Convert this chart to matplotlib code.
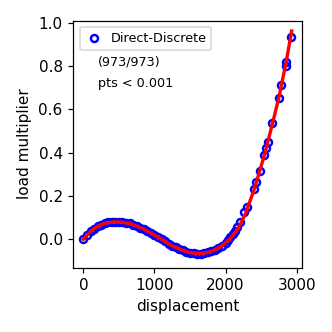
import matplotlib
matplotlib.use("Agg")
import matplotlib.pyplot as plt

# markers: discrete solver steps
step_disp = [0, 50, 100, 150, 200, 250, 300, 350, 400, 450, 500, 550, 600, 650,
             700, 750, 800, 850, 900, 950, 1000, 1050, 1100, 1150, 1200, 1250,
             1300, 1350, 1400, 1450, 1500, 1550, 1600, 1650, 1700, 1750, 1800,
             1850, 1900, 1950, 2000, 2040, 2063, 2100, 2134, 2158, 2200, 2260,
             2298, 2401, 2429, 2481, 2546, 2565, 2602, 2658, 2748, 2781, 2847,
             2851, 2917]
step_load = [0.000, 0.019, 0.036, 0.049, 0.060, 0.068, 0.074, 0.078, 0.080,
             0.080, 0.080, 0.079, 0.076, 0.073, 0.068, 0.062, 0.054, 0.047,
             0.038, 0.029, 0.020, 0.010, 0.000, -0.009, -0.020, -0.030, -0.038,
             -0.046, -0.052, -0.058, -0.062, -0.065, -0.066, -0.066, -0.064,
             -0.061, -0.056, -0.049, -0.040, -0.029, -0.017, -0.005, 0.012,
             0.025, 0.040, 0.058, 0.078, 0.127, 0.150, 0.232, 0.263, 0.317,
             0.389, 0.420, 0.450, 0.535, 0.653, 0.712, 0.800, 0.820, 0.935]

# reference curve
ref_disp = [0, 100, 200, 300, 420, 540, 680, 820, 960, 1100, 1220, 1360, 1500,
            1640, 1780, 1920, 2060, 2180, 2280, 2400, 2480, 2560, 2660, 2750,
            2850, 2930]
ref_load = [0.0, 0.036, 0.060, 0.074, 0.080, 0.079, 0.070, 0.051, 0.027, 0.0,
            -0.026, -0.046, -0.062, -0.066, -0.059, -0.037, 0.0, 0.051, 0.118,
            0.228, 0.315, 0.405, 0.535, 0.655, 0.815, 0.962]

fig = plt.figure(figsize=(332 / 110, 332 / 110), dpi=110)
ax = fig.add_axes([0.221, 0.194, 0.688, 0.744])

ax.plot(step_disp, step_load, 'o', mfc='none', mec='blue', ms=4.6, mew=1.6,
        label='Direct-Discrete')
ax.plot(ref_disp, ref_load, '-', color='red', lw=2.2)

ax.set_xlabel('displacement')
ax.set_ylabel('load multiplier')
ax.set_xticks([0, 1000, 2000, 3000])
ax.set_yticks([0.0, 0.2, 0.4, 0.6, 0.8, 1.0])
ax.set_xlim(-141, 3072)
ax.set_ylim(-0.131, 1.01)

ax.legend(loc='upper left', fontsize='small', handlelength=1.5,
          handletextpad=0.5)
ax.text(0.108, 0.832, '(973/973)', transform=ax.transAxes, fontsize='small',
        va='center')
ax.text(0.108, 0.747, 'pts < 0.001', transform=ax.transAxes, fontsize='small',
        va='center')

fig.savefig('out.png', dpi=110)
